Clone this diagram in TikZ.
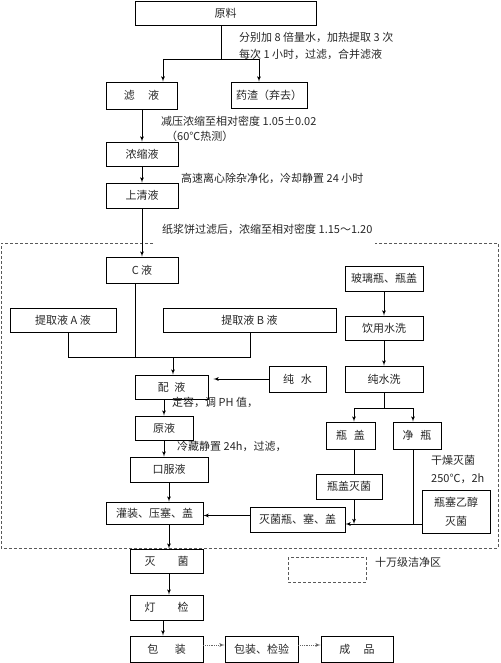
\documentclass[tikz,border=0pt]{standalone}
\usepackage{fontspec}
\setmainfont{Noto Sans CJK SC}
\usepackage{tikz}
\usetikzlibrary{arrows,positioning,calc}

\begin{document}
\begin{tikzpicture}[x=1pt, y=-1pt, font=\fontsize{11}{13}\selectfont,
	box/.style={draw, line width=0.8pt, inner sep=0pt, align=center, text=black!85},
	note/.style={anchor=west, inner sep=0pt, text=black!85},
	zone/.style={black!65, line width=0.8pt, dash pattern=on 3pt off 2pt}]
		\useasboundingbox (0,0) rectangle (500,663);

		\node[box, minimum width=181, minimum height=24] (YL) at (225.5, 13) {原料};
		\node[box, minimum width=71, minimum height=27] (LY) at (141.5, 95.5) {滤\hspace{1.2em}液};
		\node[box, minimum width=76, minimum height=26] (YZ) at (269, 95) {药渣（弃去）};
		\node[box, minimum width=72, minimum height=24] (NS) at (142, 154) {浓缩液};
		\node[box, minimum width=72, minimum height=25] (SQ) at (142, 195.5) {上清液};
		\node[box, minimum width=72, minimum height=26] (CY) at (142, 270) {C 液};
		\node[box, minimum width=106, minimum height=24] (TA) at (63, 320) {提取液 A 液};
		\node[box, minimum width=173, minimum height=24] (TB) at (249.5, 320) {提取液 B 液};
		\node[box, minimum width=78, minimum height=25] (BL) at (384, 278.5) {玻璃瓶、瓶盖};
		\node[box, minimum width=78, minimum height=24] (YS) at (384, 328) {饮用水洗};
		\node[box, minimum width=78, minimum height=26] (CS) at (384, 379) {纯水洗};
		\node[box, minimum width=57, minimum height=26] (CW) at (297.5, 379) {纯\hspace{0.6em}水};
		\node[box, minimum width=73, minimum height=24] (PY) at (171.5, 387) {配\hspace{0.5em}液};
		\node[box, minimum width=58, minimum height=24] (YY) at (164, 428) {原液};
		\node[box, minimum width=78, minimum height=25] (KF) at (169, 469.5) {口服液};
		\node[box, minimum width=49, minimum height=27] (PG) at (350.5, 435.5) {瓶\hspace{0.6em}盖};
		\node[box, minimum width=48, minimum height=27] (JP) at (417, 435.5) {净\hspace{0.6em}瓶};
		\node[box, minimum width=66, minimum height=25] (PGM) at (349, 486.5) {瓶盖灭菌};
		\node[box, minimum width=68, minimum height=43, font=\fontsize{11}{19}\selectfont] (PS) at (456, 511.5) {瓶塞乙醇\\灭菌};
		\node[box, minimum width=97, minimum height=22] (GZ) at (154.5, 513) {灌装、压塞、盖};
		\node[box, minimum width=95, minimum height=25] (MP) at (297.5, 519.5) {灭菌瓶、塞、盖};
		\node[box, minimum width=73, minimum height=24] (MJ) at (166.5, 561) {灭\hspace{2em}菌};
		\node[box, minimum width=73, minimum height=25] (DJ) at (166.5, 607.5) {灯\hspace{2em}检};
		\node[box, minimum width=73, minimum height=26] (BZ) at (166.5, 649) {包\hspace{1.5em}装};
		\node[box, minimum width=73, minimum height=26] (BJ) at (261.5, 649) {包装、检验};
		\node[box, minimum width=72, minimum height=26] (CP) at (357, 649) {成\hspace{1.2em}品};

		\node[note] (N1) at (239, 37) {分别加 8 倍量水，加热提取 3 次};
		\node[note] (N2) at (239, 54) {每次 1 小时，过滤，合并滤液};
		\node[note] (N3) at (161, 121) {减压浓缩至相对密度 1.05±0.02};
		\node[note] (N4) at (166, 136) {（60℃热测）};
		\node[note] (N5) at (181, 178) {高速离心除杂净化，冷却静置 24 小时};
		\node[note] (N6) at (162, 229) {纸浆饼过滤后，浓缩至相对密度 1.15～1.20};
		\node[note] (N7) at (172, 402) {定容，调 PH 值，};
		\node[note] (N8) at (177, 446) {冷藏静置 24h，过滤，};
		\node[note] (N9) at (431, 460) {干燥灭菌};
		\node[note] (N10) at (431, 479) {250℃，2h};
		\node[note] (N11) at (375, 562) {十万级洁净区};

		\draw[zone] (153, 243) -- (1, 243) -- (1, 548) -- (498, 548) -- (498, 243) -- (375, 243);
		\draw[zone] (288, 557) rectangle (366, 582);

		\coordinate (J1) at (221, 59);
		\coordinate (J1L) at (163, 59);
		\coordinate (J1R) at (259, 59);
		\draw[thick] (YL.south -| J1) -- (J1);
		\draw[thick] (J1L) -- (J1R);
		\draw[-latex', thick] (J1L) -- (J1L |- LY.north);
		\draw[-latex', thick] (J1R) -- (J1R |- YZ.north);

		\draw[-latex', thick] (NS.north |- LY.south) -- (NS.north);
		\draw[-latex', thick] (NS.south) -- (SQ.north);
		\draw[-latex', thick] (SQ.south) -- (CY.north);

		\coordinate (J2A) at (68, 357);
		\coordinate (J2B) at (250, 357);
		\coordinate (J2C) at (135, 357);
		\coordinate (J2) at (173, 357);
		\draw[thick] (TA.south -| J2A) -- (J2A) -- (J2B) -- (TB.south -| J2B);
		\draw[thick] (CY.south -| J2C) -- (J2C);
		\draw[-latex', thick] (J2) -- (PY.north -| J2);

		\draw[-latex', thick] (BL.south) -- (YS.north);
		\draw[-latex', thick] (YS.south) -- (CS.north);

		\coordinate (J3) at (384, 408);
		\coordinate (J3L) at (354, 408);
		\coordinate (J3R) at (413, 408);
		\draw[thick] (CS.south) -- (J3);
		\draw[thick] (J3L) -- (J3R);
		\draw[-latex', thick] (J3L) -- (J3L |- PG.north);
		\draw[-latex', thick] (J3R) -- (J3R |- JP.north);

		\draw[-latex', thick] (CW.west) -- ([xshift=5pt]CW.west -| PY.east);
		\draw[-latex', thick] (YY.north |- PY.south) -- (YY.north);
		\draw[-latex', thick] (YY.south) -- (YY.south |- KF.north);
		\draw[-latex', thick] (KF.south) -- (KF.south |- GZ.north);

		\coordinate (J4) at (413, 524);
		\coordinate (J5) at (354, 524);
		\draw[thick] (J3L |- PG.south) -- (J3L |- PGM.north);
		\draw[-latex', thick] (J5 |- PGM.south) -- (J5);
		\draw[thick] (J4 |- JP.south) -- (J4);
		\draw[-latex', thick] (PS.west |- J4) -- (MP.east |- J4);
		\draw[-latex', thick] ([yshift=4pt]MP.west) -- ([yshift=4pt]MP.west -| GZ.east);

		\draw[-latex', thick] (KF.south |- GZ.south) -- (KF.south |- MJ.north);
		\draw[-latex', thick] (KF.south |- MJ.south) -- (KF.south |- DJ.north);
		\draw[-latex', thick] ([xshift=-3.5pt]DJ.south) -- ([xshift=-3.5pt]DJ.south |- BZ.north);

		\draw[-latex', thick, densely dotted, black!60] ([yshift=4pt]BZ.east) -- ([yshift=4pt]BZ.east -| BJ.west);
		\draw[-latex', thick, densely dotted, black!60] ([yshift=4pt]BJ.east) -- ([yshift=4pt]BJ.east -| CP.west);
	\end{tikzpicture}
\end{document}
